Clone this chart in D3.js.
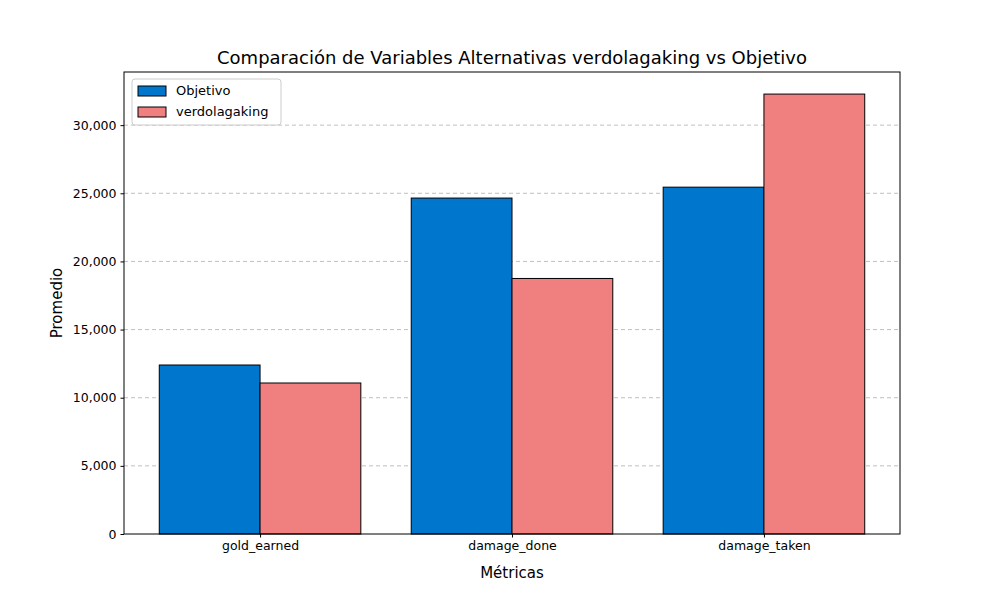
<!DOCTYPE html>
<html><head><meta charset="utf-8">
<script src="https://cdn.jsdelivr.net/npm/d3@7"></script>
<style>body{margin:0;background:#fff;font-family:"DejaVu Sans",sans-serif;}</style>
</head><body><div id="chart"></div>
<script>
const categories = ["gold_earned", "damage_done", "damage_taken"];
const seriesNames = ["Objetivo", "verdolagaking"];
const objetivo = [12400, 24650, 25450];
const verdolagaking = [11080, 18750, 32280];
const yTicks = [0, 5000, 10000, 15000, 20000, 25000, 30000];
const colors = ["#0077cc", "#f08080"];

const margin = {top: 72, right: 100, bottom: 66, left: 124},
    width = 1000, height = 600;

const svg = d3.select("#chart").append("svg")
    .attr("width", width).attr("height", height);

const x = d3.scaleLinear().domain([-0.54, 2.54]).range([margin.left, width - margin.right]);
const y = d3.scaleLinear().domain([0, 33900]).range([height - margin.bottom, margin.top]);

// grid
svg.append("g").selectAll("line").data(yTicks.filter(t => t > 0)).enter().append("line")
    .attr("x1", margin.left).attr("x2", width - margin.right)
    .attr("y1", d => y(d)).attr("y2", d => y(d))
    .attr("stroke", "#b0b0b0").attr("stroke-dasharray", "4,3").attr("stroke-width", 0.8);

const series = [objetivo, verdolagaking];
const bw = 0.4;
series.forEach((vals, s) => {
    svg.append("g").selectAll("rect").data(vals).enter().append("rect")
        .attr("x", (d, i) => x(i - bw + s * bw))
        .attr("width", x(bw) - x(0))
        .attr("y", d => y(d))
        .attr("height", d => y(0) - y(d))
        .attr("fill", colors[s]).attr("stroke", "#000").attr("stroke-width", 1);
});

// axes
svg.append("g").attr("transform", `translate(${margin.left},0)`)
    .call(d3.axisLeft(y).tickValues(yTicks).tickSize(3.5).tickPadding(4))
    .call(g => g.selectAll("text").attr("font-size", 12.5).attr("fill", "#000").attr("font-family", "DejaVu Sans"));
svg.append("g").attr("transform", `translate(0,${height - margin.bottom})`)
    .call(d3.axisBottom(x).tickValues([0, 1, 2]).tickFormat(i => categories[i]).tickSize(3.5).tickPadding(4))
    .call(g => g.selectAll("text").attr("font-size", 12.5).attr("fill", "#000").attr("font-family", "DejaVu Sans"));
svg.selectAll(".domain").remove();
svg.append("rect").attr("x", margin.left).attr("y", margin.top)
    .attr("width", width - margin.right - margin.left).attr("height", height - margin.bottom - margin.top)
    .attr("fill", "none").attr("stroke", "#000").attr("stroke-width", 1);

// titles
svg.append("text").attr("x", (margin.left + width - margin.right) / 2).attr("y", 64)
    .attr("text-anchor", "middle").attr("font-size", 18)
    .text("Comparación de Variables Alternativas verdolagaking vs Objetivo");
svg.append("text").attr("x", (margin.left + width - margin.right) / 2).attr("y", 578)
    .attr("text-anchor", "middle").attr("font-size", 15).text("Métricas");
svg.append("text").attr("transform", "translate(62,303)rotate(-90)")
    .attr("text-anchor", "middle").attr("font-size", 15).text("Promedio");

// legend
const lg = svg.append("g").attr("transform", "translate(132,79)");
lg.append("rect").attr("width", 149).attr("height", 46).attr("rx", 3)
    .attr("fill", "#fff").attr("fill-opacity", 0.8).attr("stroke", "#ccc");
seriesNames.forEach((n, i) => {
    lg.append("rect").attr("x", 6).attr("y", 7 + i * 21).attr("width", 28).attr("height", 10)
        .attr("fill", colors[i]).attr("stroke", "#000");
    lg.append("text").attr("x", 44).attr("y", 16 + i * 21).attr("font-size", 13).text(n);
});
</script></body></html>
